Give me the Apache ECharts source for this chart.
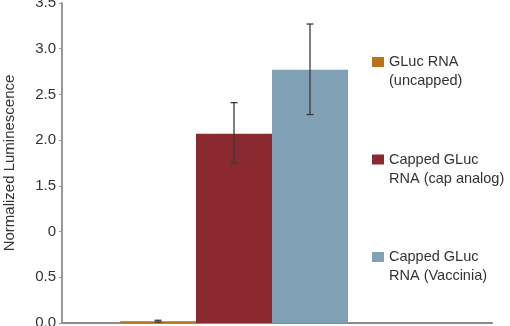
<!DOCTYPE html>
<html><head><meta charset="utf-8">
<script src="https://cdn.jsdelivr.net/npm/echarts@6/dist/echarts.min.js"></script>
<style>html,body{margin:0;padding:0;background:#fff}#c{width:510px;height:326px}</style>
</head><body><div id="c"></div>
<script>
var categories = ['GLuc RNA\n(uncapped)', 'Capped GLuc\nRNA (cap analog)', 'Capped GLuc\nRNA (Vaccinia)'];
var seriesNames = ['GLuc RNA (uncapped)', 'Capped GLuc RNA (cap analog)', 'Capped GLuc RNA (Vaccinia)'];
var values = [0.02, 2.07, 2.77];
var errLow = [0.01, 1.75, 2.28];
var errHigh = [0.03, 2.41, 3.27];
var yTickLabels = ['0.0', '0.5', '0', '1.5', '2.0', '2.5', '3.0', '3.5'];
var colors = ['#B5731B', '#8A2A30', '#7FA0B5'];

var FONT = 'Liberation Sans, Arial, sans-serif';
var chart = echarts.init(document.getElementById('c'));
var barSeries = seriesNames.map(function (n, i) {
  return {
    name: n, type: 'bar', stack: 'g', xAxisIndex: 1, yAxisIndex: 1,
    barWidth: '100%',
    itemStyle: { color: colors[i] },
    data: values.map(function (v, j) { return j === i ? v : '-'; }),
    animation: false
  };
});
var errData = values.map(function (v, i) { return [i, errLow[i], errHigh[i]]; });
var option = {
  animation: false,
  textStyle: { fontFamily: FONT },
  grid: [
    { left: 62, right: 18, top: 3, bottom: 3, outerBoundsMode: 'none', containLabel: false },
    { left: 120, right: 162, top: 3, bottom: 3, outerBoundsMode: 'none', containLabel: false }
  ],
  legend: {
    orient: 'vertical', left: 367, top: 28.5, itemWidth: 12, itemHeight: 10, itemGap: 40.5,
    icon: 'rect',
    data: seriesNames,
    formatter: function (n) { return ' \n' + categories[seriesNames.indexOf(n)]; },
    textStyle: { fontSize: 14.5, color: '#333', lineHeight: 19, fontFamily: FONT }
  },
  xAxis: [
    { type: 'category', gridIndex: 0, data: [''], axisLine: { lineStyle: { color: '#8a8a8a', width: 2 } }, axisTick: { show: false }, axisLabel: { show: false } },
    { type: 'category', gridIndex: 1, data: categories, show: false }
  ],
  yAxis: [
    {
      type: 'value', gridIndex: 0, min: 0, max: 3.5, interval: 0.5,
      name: 'Normalized Luminescence', nameLocation: 'middle', nameGap: 45,
      nameTextStyle: { fontSize: 15, color: '#333', fontFamily: FONT },
      axisLine: { show: true, lineStyle: { color: '#999', width: 2 } },
      axisTick: { show: true, length: 3, lineStyle: { color: '#999' } },
      splitLine: { show: false },
      axisLabel: {
        fontSize: 15, color: '#333', margin: 6, fontFamily: FONT,
        formatter: function (v) { return yTickLabels[Math.round(v / 0.5)]; }
      }
    },
    { type: 'value', gridIndex: 1, min: 0, max: 3.5, interval: 0.5, show: false }
  ],
  series: barSeries.concat([{
    type: 'custom', xAxisIndex: 1, yAxisIndex: 1, z: 10,
    data: errData,
    renderItem: function (params, api) {
      var lo = api.coord([api.value(0), api.value(1)]);
      var hi = api.coord([api.value(0), api.value(2)]);
      var c = 3.5;
      var st = { stroke: '#3a3a3a', lineWidth: 1.3 };
      return { type: 'group', children: [
        { type: 'line', shape: { x1: lo[0], y1: lo[1], x2: hi[0], y2: hi[1] }, style: st },
        { type: 'line', shape: { x1: lo[0] - c, y1: lo[1], x2: lo[0] + c, y2: lo[1] }, style: st },
        { type: 'line', shape: { x1: hi[0] - c, y1: hi[1], x2: hi[0] + c, y2: hi[1] }, style: st }
      ] };
    }
  }])
};
chart.setOption(option);
</script></body></html>
